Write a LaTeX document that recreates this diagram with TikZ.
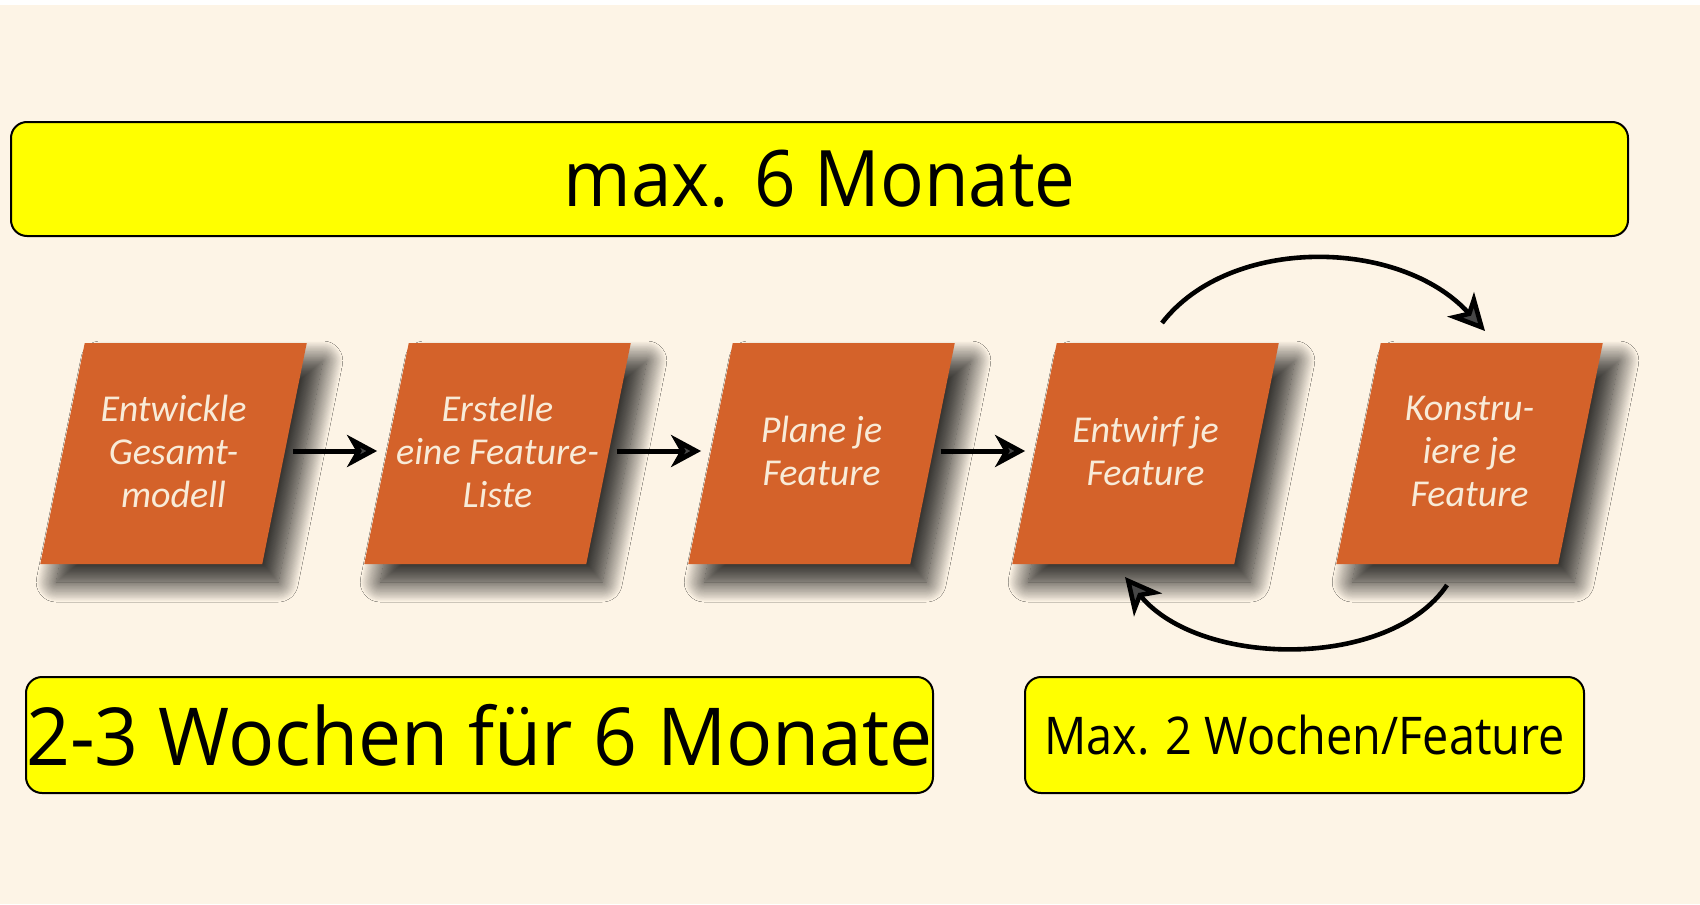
\documentclass[tikz,border=0pt]{standalone}
\usepackage{fontspec}
\setmainfont{Open Sans}
\newfontfamily\boxfont{Carlito}
\usetikzlibrary{arrows.meta,shadows.blur}
\definecolor{bg}{HTML}{FDF4E6}
\definecolor{procfill}{HTML}{D4622A}
\definecolor{proctext}{HTML}{F8EBD8}
\definecolor{banneryellow}{HTML}{FFFF00}
\begin{document}
\begin{tikzpicture}[x=0.5pt,y=-0.5pt,
  banner/.style={draw=black, line width=1pt, fill=banneryellow, rounded corners=8pt, inner sep=0pt, text=black},
  proc/.style={rectangle, minimum width=111pt, minimum height=110.5pt, inner sep=0pt,
    text=proctext, align=center,
    font=\boxfont\itshape\fontsize{19}{21.5}\selectfont},
  procshape/.style={fill=procfill,
    blur shadow={shadow xshift=0pt, shadow yshift=0pt, shadow blur radius=7pt, shadow opacity=15},
    blur shadow={shadow xshift=8pt, shadow yshift=-9pt, shadow blur radius=10pt, shadow blur steps=24, shadow opacity=55}},
  arr/.style={-{Stealth[length=15pt,width=16pt,inset=4.5pt]}, line width=2.5pt},
  carr/.style={-{Stealth[length=18pt,width=18pt,inset=5pt]}, line width=2.3pt}]
\fill[bg] (0,0) rectangle (1700,904);
\fill[white] (0,0) rectangle (1700,5);
\useasboundingbox (0,0) rectangle (1700,904);

\node[banner, minimum width=808.5pt, minimum height=57pt] (top) at (819.5,179)
  {\fontsize{39}{39}\selectfont\scalebox{0.932}[1]{max. 6 Monate}};

\foreach \i/\x in {1/173.5,2/497.5,3/821.5,4/1145.5,5/1469.5}{
  \coordinate (c\i) at (\x,451);
  \fill[procshape] ([xshift=-44.375pt]c\i |- 0,343) -- ([xshift=66.625pt]c\i |- 0,343)
    -- ([xshift=44.375pt]c\i |- 0,564) -- ([xshift=-66.625pt]c\i |- 0,564) -- cycle;
}

\node[proc] (p1) at (c1) {Entwickle\\Gesamt-\\modell};
\node[proc] (p2) at (c2) {Erstelle\\eine Feature-\\Liste};
\node[proc] (p3) at (c3) {Plane je\\Feature};
\node[proc] (p4) at (c4) {Entwirf je\\Feature};
\node[proc] (p5) at (c5) {Konstru-\\iere je\\Feature};

\draw[arr, shorten <=4pt, shorten >=4.5pt] (p1.east) -- (p2.west);
\draw[arr, shorten <=4pt, shorten >=4.5pt] (p2.east) -- (p3.west);
\draw[arr, shorten <=4pt, shorten >=4.5pt] (p3.east) -- (p4.west);

\draw[carr] ([xshift=8.25pt,yshift=64pt]p4.center) .. controls +(34pt,44pt) and +(-42.5pt,46.5pt) .. ([xshift=7.75pt,yshift=60pt]p5.center);
\draw[carr] ([xshift=-11.25pt,yshift=-67pt]p5.center) .. controls +(-28.5pt,-42.5pt) and +(37.5pt,-45.5pt) .. ([xshift=-10.25pt,yshift=-63pt]p4.center);

\node[banner, minimum width=453.5pt, minimum height=58pt] (weeks) at (479.5,735)
  {\fontsize{40}{40}\selectfont\scalebox{0.96}[1]{2-3 Wochen für 6 Monate}};
\node[banner, minimum width=279.5pt, minimum height=58pt] (feat) at (1304.5,735)
  {\fontsize{26}{26}\selectfont\scalebox{0.9}[1]{Max. 2 Wochen/Feature}};
\end{tikzpicture}
\end{document}
